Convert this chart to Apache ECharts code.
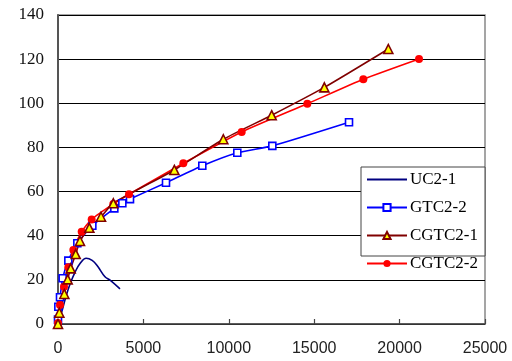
<!DOCTYPE html>
<html>
<head>
<meta charset="utf-8">
<script src="https://cdn.jsdelivr.net/npm/echarts@6/dist/echarts.min.js"></script>
<style>
  html, body { margin: 0; padding: 0; background: #fff; }
  #chart { width: 512px; height: 361px; }
</style>
</head>
<body>
<div id="chart"></div>
<script>
// Load vs. displacement curves for the four specimens
const seriesNames = ['UC2-1', 'GTC2-2', 'CGTC2-1', 'CGTC2-2'];

const uc21 = [[0, 0], [200, 5], [450, 12], [700, 18], [1000, 23.5], [1300, 27.5], [1650, 29.8], [2000, 28.8], [2300, 26.4], [2750, 21.4], [3050, 19.9], [3630, 15.9]];

const gtc22 = [[0, 2], [20, 7.8], [117, 12.1], [273, 20.7], [605, 28.7], [1132, 36.6], [2011, 44.5], [3298, 52.4], [3767, 54.7], [4216, 56.6], [6323, 64.0], [8449, 71.7], [10498, 77.6], [12548, 80.7], [17038, 91.4]];

const cgtc21 = [[0, 0], [78, 5.1], [371, 13.6], [566, 20.2], [742, 25.2], [1036, 31.7], [1288, 37.6], [1835, 43.6], [2518, 48.6], [3240, 54.7], [6811, 69.8], [9680, 83.7], [12511, 94.6], [15594, 107.2], [19340, 124.6]];

const cgtc22 = [[0, 0.5], [117, 8.6], [351, 16.9], [605, 25.7], [898, 33.5], [1386, 41.8], [1971, 47.4], [3240, 54.4], [4157, 58.8], [7338, 72.8], [10754, 87.0], [14598, 99.8], [17877, 110.9], [21137, 120.1]];

const xTicks = { min: 0, max: 25000, interval: 5000 };
const yTicks = { min: 0, max: 140, interval: 20 };

const chart = echarts.init(document.getElementById('chart'), null, { renderer: 'canvas' });

chart.setOption({
  animation: false,
  backgroundColor: '#fff',
  grid: {
    left: 58, right: 27, top: 15, bottom: 37,
    show: true, borderColor: '#888', borderWidth: 1.5, backgroundColor: '#fff'
  },
  xAxis: {
    type: 'value',
    min: xTicks.min, max: xTicks.max, interval: xTicks.interval,
    axisLine: { show: true, lineStyle: { color: '#444', width: 1.5 } },
    axisTick: { show: true, inside: true, length: 5, lineStyle: { color: '#444', width: 1.2 } },
    axisLabel: {
      fontFamily: 'Liberation Sans', fontSize: 16, color: '#222', margin: 17,
      formatter: (v) => String(v)
    },
    splitLine: { show: false }
  },
  yAxis: {
    type: 'value',
    min: yTicks.min, max: yTicks.max, interval: yTicks.interval,
    axisLine: { show: true, lineStyle: { color: '#555', width: 2 } },
    axisTick: { show: false },
    axisLabel: { fontFamily: 'Liberation Serif', fontSize: 17, color: '#111', margin: 14 },
    splitLine: { show: true, lineStyle: { color: '#000', width: 1 } }
  },
  graphic: [{
    type: 'rect', z: 50,
    shape: { x: 361, y: 167, width: 124, height: 89 },
    style: { fill: '#fff', stroke: '#444', lineWidth: 1 }
  }],
  legend: {
    orient: 'vertical',
    left: 366, top: 171,
    z: 60,
    itemWidth: 40, itemHeight: 9, itemGap: 11,
    padding: 0,
    textStyle: { fontFamily: 'Liberation Serif', fontSize: 17, color: '#000', padding: [0, 0, 0, -2] },
    data: [
      { name: seriesNames[0], itemStyle: { opacity: 0 } },
      seriesNames[1], seriesNames[2], seriesNames[3]
    ]
  },
  series: [
    {
      name: seriesNames[0], type: 'line', data: uc21, smooth: 0.4,
      symbol: 'none', lineStyle: { color: '#000080', width: 1.6 }, itemStyle: { color: '#000080' }
    },
    {
      name: seriesNames[1], type: 'line', data: gtc22, smooth: 0.2,
      symbol: 'rect', symbolSize: 7,
      lineStyle: { color: '#0000FF', width: 1.6 },
      itemStyle: { color: '#fff', borderColor: '#0000FF', borderWidth: 1.6 }
    },
    {
      name: seriesNames[3], type: 'line', data: cgtc22, smooth: 0.2,
      symbol: 'circle', symbolSize: 8,
      lineStyle: { color: '#FF0000', width: 1.6 },
      itemStyle: { color: '#FF0000', borderColor: '#FF0000', borderWidth: 0 }
    },
    {
      name: seriesNames[2], type: 'line', data: cgtc21, smooth: 0.2,
      symbol: 'triangle', symbolSize: 9,
      lineStyle: { color: '#800000', width: 1.6 },
      itemStyle: { color: '#FFFF00', borderColor: '#800000', borderWidth: 1.6 }
    }
  ]
});
</script>
</body>
</html>
